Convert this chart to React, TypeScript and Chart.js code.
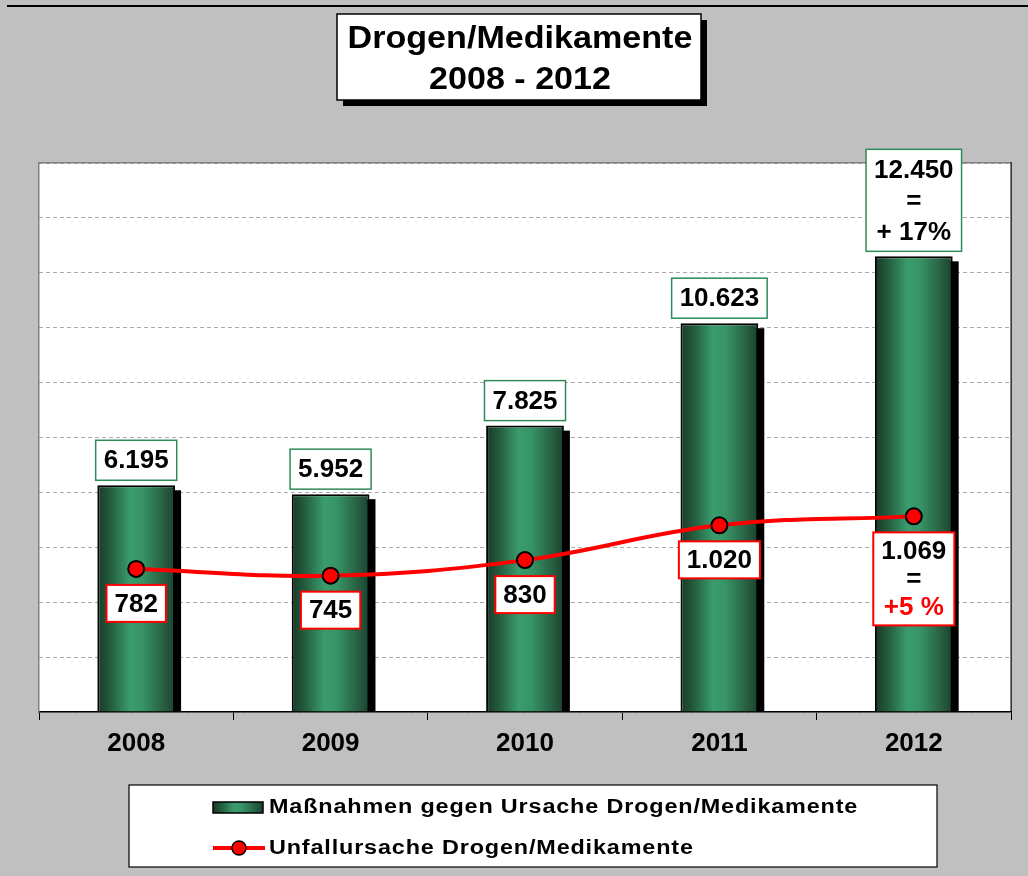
import React, { useEffect, useRef } from "react";
import { Chart, registerables } from "chart.js";

Chart.register(...registerables);

const years = ["2008", "2009", "2010", "2011", "2012"];
const massnahmen = [6195, 5952, 7825, 10623, 12450];
const unfallursache = [782, 745, 830, 1020, 1069];
const massnahmenNotes = ["", "", "", "", "+ 17%"];
const unfallNotes = ["", "", "", "", "+5 %"];
const barAxisMax = 15000;
const barAxisStep = 1500;
const lineAxisMax = 3000;

const titleLines = ["Drogen/Medikamente", "2008 - 2012"];
const legendLabels = [
  "Maßnahmen gegen Ursache Drogen/Medikamente",
  "Unfallursache Drogen/Medikamente",
];

const FONT = "'Liberation Sans', Arial, Helvetica, sans-serif";
const fmt = (v: number) => String(v).replace(/\B(?=(\d{3})+(?!\d))/g, ".");

function makeGradient(ctx: CanvasRenderingContext2D, x0: number, x1: number) {
  const g = ctx.createLinearGradient(x0, 0, x1, 0);
  g.addColorStop(0, "#183a28");
  g.addColorStop(0.15, "#22583b");
  g.addColorStop(0.42, "#3a9c6c");
  g.addColorStop(0.58, "#379466");
  g.addColorStop(0.85, "#275f42");
  g.addColorStop(1, "#1b4230");
  return g;
}

function drawBox(
  ctx: CanvasRenderingContext2D,
  cx: number,
  y: number,
  anchorBottom: boolean,
  lines: string[],
  colors: string[],
  border: string,
  borderW: number,
  lineH: number
) {
  ctx.save();
  ctx.font = `bold 26px ${FONT}`;
  let w = 0;
  lines.forEach((l) => (w = Math.max(w, ctx.measureText(l).width)));
  const padX = 8;
  const padY = 4.5;
  const bw = w + padX * 2;
  const bh = lines.length * lineH + padY * 2;
  const top = anchorBottom ? y - bh : y;
  const left = cx - bw / 2;
  ctx.fillStyle = "#ffffff";
  ctx.fillRect(left, top, bw, bh);
  ctx.strokeStyle = border;
  ctx.lineWidth = borderW;
  ctx.strokeRect(left, top, bw, bh);
  ctx.textAlign = "center";
  ctx.textBaseline = "middle";
  lines.forEach((l, i) => {
    ctx.fillStyle = colors[i] || "#000";
    ctx.fillText(l, cx, top + padY + lineH * (i + 0.5) + 1);
  });
  ctx.restore();
}

function drawStretched(
  ctx: CanvasRenderingContext2D,
  text: string,
  x: number,
  y: number,
  sx: number,
  align: "left" | "center"
) {
  ctx.save();
  ctx.translate(x, y);
  ctx.scale(sx, 1);
  ctx.textAlign = align;
  ctx.fillText(text, 0, 0);
  ctx.restore();
}

const decorPlugin = {
  id: "decor",
  beforeDraw(chart: any) {
    const ctx = chart.ctx as CanvasRenderingContext2D;
    const a = chart.chartArea;
    ctx.save();
    ctx.fillStyle = "#c0c0c0";
    ctx.fillRect(0, 0, chart.width, chart.height);
    ctx.fillStyle = "#ffffff";
    ctx.fillRect(a.left, a.top, a.right - a.left, a.bottom - a.top);
    ctx.fillStyle = "#000";
    ctx.fillRect(7, 5, chart.width - 7, 2);
    ctx.restore();
  },
  beforeDatasetsDraw(chart: any) {
    const ctx = chart.ctx as CanvasRenderingContext2D;
    const meta = chart.getDatasetMeta(0);
    ctx.save();
    ctx.fillStyle = "#000";
    meta.data.forEach((el: any) => {
      const left = el.x - el.width / 2 + 6;
      const top = el.y + 5;
      ctx.fillRect(left, top, el.width, el.base - top);
    });
    ctx.restore();
  },
  afterDraw(chart: any) {
    const ctx = chart.ctx as CanvasRenderingContext2D;
    const a = chart.chartArea;
    ctx.save();
    ctx.fillStyle = "#808080";
    ctx.fillRect(a.left - 1, a.top - 1, a.right - a.left + 1, 1.5);
    ctx.fillRect(a.left - 1, a.top - 1, 1.5, a.bottom - a.top + 1);
    ctx.fillStyle = "#000";
    ctx.fillRect(a.right - 0.5, a.top - 1, 1.2, a.bottom - a.top + 1);
    ctx.restore();

    const barMeta = chart.getDatasetMeta(0);
    barMeta.data.forEach((el: any, i: number) => {
      const lines = [fmt(massnahmen[i])];
      if (massnahmenNotes[i]) lines.push("=", massnahmenNotes[i]);
      drawBox(ctx, el.x, el.y - 5, true, lines, ["#000", "#000", "#000"], "#2e8b57", 1.5, 31);
    });
    const lineMeta = chart.getDatasetMeta(1);
    lineMeta.data.forEach((el: any, i: number) => {
      const lines = [fmt(unfallursache[i])];
      if (unfallNotes[i]) lines.push("=", unfallNotes[i]);
      drawBox(ctx, el.x, el.y + 16, false, lines, ["#000", "#000", "#ff0000"], "#ff0000", 2, 28);
    });

    // title box
    ctx.save();
    const tx = 337, ty = 14, tw = 364, th = 86;
    ctx.fillStyle = "#000";
    ctx.fillRect(tx + 6, ty + 6, tw, th);
    ctx.fillStyle = "#fff";
    ctx.fillRect(tx, ty, tw, th);
    ctx.strokeStyle = "#000";
    ctx.lineWidth = 1.5;
    ctx.strokeRect(tx, ty, tw, th);
    ctx.fillStyle = "#000";
    ctx.font = `bold 31px ${FONT}`;
    ctx.textBaseline = "alphabetic";
    drawStretched(ctx, titleLines[0], tx + tw / 2 + 1, 48, 1.1, "center");
    drawStretched(ctx, titleLines[1], tx + tw / 2 + 1, 89, 1.1, "center");
    ctx.restore();

    // legend
    ctx.save();
    const lx = 129, ly = 785, lw = 808, lh = 82;
    ctx.fillStyle = "#fff";
    ctx.fillRect(lx, ly, lw, lh);
    ctx.strokeStyle = "#000";
    ctx.lineWidth = 1.2;
    ctx.strokeRect(lx, ly, lw, lh);
    ctx.fillStyle = makeGradient(ctx, 213, 263);
    ctx.fillRect(213, 802, 50, 11);
    ctx.strokeStyle = "#000";
    ctx.lineWidth = 1.5;
    ctx.strokeRect(213, 802, 50, 11);
    ctx.strokeStyle = "#ff0000";
    ctx.lineWidth = 4;
    ctx.beginPath();
    ctx.moveTo(213, 848);
    ctx.lineTo(265, 848);
    ctx.stroke();
    ctx.beginPath();
    ctx.arc(239, 848, 7, 0, Math.PI * 2);
    ctx.fillStyle = "#ff0000";
    ctx.fill();
    ctx.strokeStyle = "#000";
    ctx.lineWidth = 1.5;
    ctx.stroke();
    ctx.fillStyle = "#000";
    ctx.font = `bold 19.5px ${FONT}`;
    (ctx as any).letterSpacing = "0.7px";
    ctx.textBaseline = "middle";
    drawStretched(ctx, legendLabels[0], 269, 808, 1.2, "left");
    drawStretched(ctx, legendLabels[1], 269, 849, 1.2, "left");
    ctx.restore();
  },
};

export default function App() {
  const ref = useRef<HTMLCanvasElement | null>(null);
  useEffect(() => {
    document.body.style.margin = "0";
    const canvas = ref.current!;
    const chart = new Chart(canvas, {
      type: "bar",
      data: {
        labels: years,
        datasets: [
          {
            type: "bar",
            label: legendLabels[0],
            data: massnahmen,
            yAxisID: "y",
            order: 2,
            barPercentage: 0.4,
            categoryPercentage: 1,
            borderColor: "#000",
            borderWidth: 2,
            backgroundColor: (c: any) => {
              const ch = c.chart;
              if (c.dataIndex === undefined || !ch.chartArea) return "#2e8b57";
              const xs = ch.scales.x;
              const cx = xs.getPixelForValue(c.dataIndex);
              const w = ((ch.chartArea.right - ch.chartArea.left) / years.length) * 0.4;
              return makeGradient(ch.ctx, cx - w / 2, cx + w / 2);
            },
          } as any,
          {
            type: "line",
            label: legendLabels[1],
            data: unfallursache,
            yAxisID: "y1",
            order: 1,
            borderColor: "#ff0000",
            borderWidth: 4,
            tension: 0.4,
            pointRadius: 8,
            pointBackgroundColor: "#ff0000",
            pointBorderColor: "#000",
            pointBorderWidth: 2,
            fill: false,
          } as any,
        ],
      },
      options: {
        animation: false,
        responsive: false,
        maintainAspectRatio: false,
        layout: { padding: { left: 39, top: 163, right: 17, bottom: 0 } },
        plugins: { legend: { display: false }, title: { display: false }, tooltip: { enabled: false } },
        scales: {
          x: {
            offset: true,
            grid: {
              display: true,
              drawOnChartArea: false,
              drawTicks: true,
              tickLength: 8,
              color: "#000",
              offset: true,
            },
            border: { display: true, color: "#000", width: 1.5 },
            ticks: {
              color: "#000",
              font: { family: FONT, size: 26, weight: "bold" },
              padding: 8,
            },
            afterFit: (s: any) => {
              s.height = 164;
            },
          },
          y: {
            position: "left",
            min: 0,
            max: barAxisMax,
            ticks: { display: false, stepSize: barAxisStep },
            grid: { color: "#aaaaaa", lineWidth: 1, drawTicks: false },
            border: { display: false, dash: [4, 3] },
            afterFit: (s: any) => {
              s.width = 0;
            },
          },
          y1: {
            display: false,
            position: "right",
            min: 0,
            max: lineAxisMax,
            grid: { drawOnChartArea: false },
          },
        },
      } as any,
      plugins: [decorPlugin],
    });
    return () => chart.destroy();
  }, []);
  return (
    <div style={{ width: 1028, height: 876 }}>
      <canvas ref={ref} width={1028} height={876} style={{ display: "block" }} />
    </div>
  );
}
